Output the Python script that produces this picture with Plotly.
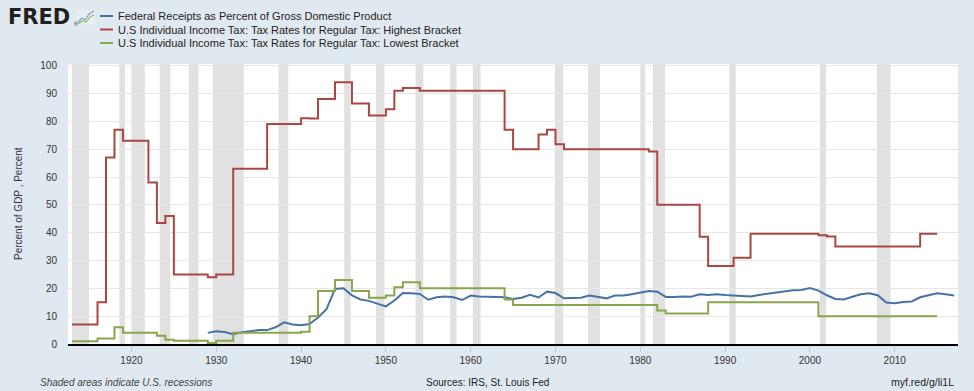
import plotly.graph_objects as go

# ---------------- data ----------------
years_rates = list(range(1913, 2016))
highest_bracket = [
    7, 7, 7, 15, 67, 77, 73, 73, 73, 58,          # 1913-1922
    43.5, 46, 25, 25, 25, 25, 24, 25, 25, 63,     # 1923-1932
    63, 63, 63, 79, 79, 79, 79, 81.1, 81, 88,     # 1933-1942
    88, 94, 94, 86.45, 86.45, 82.13, 82.13, 84.36, 91, 92,  # 1943-1952
    92, 91, 91, 91, 91, 91, 91, 91, 91, 91,       # 1953-1962
    91, 77, 70, 70, 70, 75.25, 77, 71.75, 70, 70,  # 1963-1972
    70, 70, 70, 70, 70, 70, 70, 70, 69.13, 50,    # 1973-1982
    50, 50, 50, 50, 38.5, 28, 28, 28, 31, 31,     # 1983-1992
    39.6, 39.6, 39.6, 39.6, 39.6, 39.6, 39.6, 39.6, 39.1, 38.6,  # 1993-2002
    35, 35, 35, 35, 35, 35, 35, 35, 35, 35,       # 2003-2012
    39.6, 39.6, 39.6,                             # 2013-2015
]
lowest_bracket = [
    1, 1, 1, 2, 2, 6, 4, 4, 4, 4,                 # 1913-1922
    3, 1.5, 1.125, 1.125, 1.125, 1.125, 0.375, 1.125, 1.125, 4,  # 1923-1932
    4, 4, 4, 4, 4, 4, 4, 4.4, 10, 19,             # 1933-1942
    19, 23, 23, 19, 19, 16.6, 16.6, 17.4, 20.4, 22.2,  # 1943-1952
    22.2, 20, 20, 20, 20, 20, 20, 20, 20, 20,     # 1953-1962
    20, 16, 14, 14, 14, 14, 14, 14, 14, 14,       # 1963-1972
    14, 14, 14, 14, 14, 14, 14, 14, 14, 12,       # 1973-1982
    11, 11, 11, 11, 11, 15, 15, 15, 15, 15,       # 1983-1992
    15, 15, 15, 15, 15, 15, 15, 15, 10, 10,       # 1993-2002
    10, 10, 10, 10, 10, 10, 10, 10, 10, 10,       # 2003-2012
    10, 10, 10,                                   # 2013-2015
]

years_receipts = list(range(1929, 2018))
receipts_pct_gdp = [
    4.0, 4.6, 4.3, 3.5, 4.2, 4.6, 5.0, 5.0, 6.0, 7.8,   # 1929-1938
    7.0, 6.7, 7.2, 9.5, 12.5, 19.8, 20.0, 17.5, 16.0, 15.5,  # 1939-1948
    14.5, 13.5, 15.6, 18.3, 18.2, 18.0, 15.9, 16.8, 17.1, 16.8,  # 1949-1958
    15.8, 17.4, 17.1, 17.0, 17.1, 16.8, 16.2, 16.6, 17.7, 16.7,  # 1959-1968
    18.8, 18.3, 16.4, 16.5, 16.6, 17.4, 17.0, 16.4, 17.4, 17.4,  # 1969-1978
    17.9, 18.4, 19.0, 18.8, 16.9, 16.9, 17.1, 17.0, 17.9, 17.6,  # 1979-1988
    17.9, 17.6, 17.4, 17.1, 17.1, 17.6, 18.0, 18.3, 18.8, 19.3,  # 1989-1998
    19.4, 20.1, 19.2, 17.5, 16.2, 16.0, 17.0, 17.9, 18.2, 17.5,  # 1999-2008
    14.9, 14.6, 15.1, 15.3, 16.8, 17.6, 18.2, 17.9, 17.4,        # 2009-2017
]

# NBER recessions (start year, start month, end year, end month)
recessions = [
    (1913, 1, 1914, 12), (1918, 8, 1919, 3), (1920, 1, 1921, 7),
    (1923, 5, 1924, 7), (1926, 10, 1927, 11), (1929, 8, 1933, 3),
    (1937, 5, 1938, 6), (1945, 2, 1945, 10), (1948, 11, 1949, 10),
    (1953, 7, 1954, 5), (1957, 8, 1958, 4), (1960, 4, 1961, 2),
    (1969, 12, 1970, 11), (1973, 11, 1975, 3), (1980, 1, 1980, 7),
    (1981, 7, 1982, 11), (1990, 7, 1991, 3), (2001, 3, 2001, 11),
    (2007, 12, 2009, 6),
]

x_tick_years = [1920, 1930, 1940, 1950, 1960, 1970, 1980, 1990, 2000, 2010]
y_ticks = [0, 10, 20, 30, 40, 50, 60, 70, 80, 90, 100]

series_names = [
    "Federal Receipts as Percent of Gross Domestic Product",
    "U.S Individual Income Tax: Tax Rates for Regular Tax: Highest Bracket",
    "U.S Individual Income Tax: Tax Rates for Regular Tax: Lowest Bracket",
]
series_colors = ["#4572a7", "#aa4643", "#89a54e"]

# ---------------- layout geometry ----------------
W, H = 974, 391
ML, MR, MT, MB = 68, 16, 64, 47
PW, PH = W - ML - MR, H - MT - MB


def px(x):
    return (x - ML) / PW


def py(y):
    return (H - MB - y) / PH


FONT = "Liberation Sans, Arial, sans-serif"

fig = go.Figure()
fig.add_trace(go.Scatter(x=years_receipts, y=receipts_pct_gdp, mode="lines",
                         line=dict(color=series_colors[0], width=2),
                         name=series_names[0], showlegend=False))
fig.add_trace(go.Scatter(x=years_rates, y=highest_bracket, mode="lines",
                         line=dict(color=series_colors[1], width=2, shape="hv"),
                         name=series_names[1], showlegend=False))
fig.add_trace(go.Scatter(x=years_rates, y=lowest_bracket, mode="lines",
                         line=dict(color=series_colors[2], width=2, shape="hv"),
                         name=series_names[2], showlegend=False))

shapes = []
for (sy, sm, ey, em) in recessions:
    shapes.append(dict(type="rect", xref="x", yref="paper",
                       x0=sy + (sm - 1) / 12, x1=ey + em / 12, y0=0, y1=1,
                       fillcolor="#e1e1e1", line=dict(width=0), layer="below"))

annotations = []
# legend
legend_rows = [16, 29.5, 43]
for name, color, ry in zip(series_names, series_colors, legend_rows):
    shapes.append(dict(type="line", xref="paper", yref="paper",
                       x0=px(100), x1=px(113), y0=py(ry), y1=py(ry),
                       line=dict(color=color, width=2)))
    annotations.append(dict(text=name, xref="paper", yref="paper",
                            x=px(116), y=py(ry), xanchor="left", yanchor="middle",
                            showarrow=False,
                            font=dict(family=FONT, size=11, color="#222222")))

# FRED logo
annotations.append(dict(text="<b>FRED</b>", xref="paper", yref="paper",
                        x=px(6), y=py(17.5), xanchor="left", yanchor="middle",
                        showarrow=False,
                        font=dict(family="DejaVu Sans, sans-serif", size=21, color="#231f20")))
annotations.append(dict(text="®", xref="paper", yref="paper",
                        x=px(72), y=py(24), xanchor="left", yanchor="middle",
                        showarrow=False,
                        font=dict(family=FONT, size=5, color="#231f20")))
shapes.append(dict(type="rect", xref="paper", yref="paper",
                   x0=px(77), x1=px(95), y0=py(25), y1=py(10),
                   fillcolor="#e9eef3", line=dict(width=0)))
shapes.append(dict(type="path", xref="paper", yref="paper",
                   path="M {} {} L {} {} L {} {} L {} {} L {} {}".format(
                       px(78), py(22), px(82), py(18), px(85), py(20),
                       px(89), py(14), px(94), py(11)),
                   line=dict(color="#7fa0c8", width=1.2)))
shapes.append(dict(type="path", xref="paper", yref="paper",
                   path="M {} {} L {} {} L {} {} L {} {} L {} {}".format(
                       px(78), py(24), px(82), py(21), px(86), py(22),
                       px(90), py(17), px(94), py(15)),
                   line=dict(color="#9bbb59", width=1.2)))

# y axis title
annotations.append(dict(text="Percent of GDP , Percent", xref="paper", yref="paper",
                        x=px(18), y=0.5, xanchor="center", yanchor="middle",
                        textangle=-90, showarrow=False,
                        font=dict(family=FONT, size=10, color="#333333")))
# footer
annotations.append(dict(text="<i>Shaded areas indicate U.S. recessions</i>",
                        xref="paper", yref="paper", x=px(38), y=py(382),
                        xanchor="left", yanchor="middle", showarrow=False,
                        font=dict(family=FONT, size=10, color="#444444")))
annotations.append(dict(text="Sources: IRS, St. Louis Fed",
                        xref="paper", yref="paper", x=px(487), y=py(382),
                        xanchor="center", yanchor="middle", showarrow=False,
                        font=dict(family=FONT, size=10, color="#222222")))
annotations.append(dict(text="myf.red/g/li1L",
                        xref="paper", yref="paper", x=px(956), y=py(382),
                        xanchor="right", yanchor="middle", showarrow=False,
                        font=dict(family=FONT, size=10.5, color="#222222")))

fig.update_layout(
    width=W, height=H,
    margin=dict(l=ML, r=MR, t=MT, b=MB),
    paper_bgcolor="#e1e9f0", plot_bgcolor="#ffffff",
    showlegend=False,
    shapes=shapes, annotations=annotations,
    font=dict(family=FONT, size=10, color="#333333"),
    xaxis=dict(range=[1912.52, 2017.46], tickmode="array",
               tickvals=x_tick_years, ticktext=[str(v) for v in x_tick_years],
               showgrid=False, zeroline=False, showline=True,
               linecolor="#000000", linewidth=2,
               ticks="outside", ticklen=6, tickcolor="#c5ced8", tickwidth=1,
               tickfont=dict(family=FONT, size=10, color="#333333")),
    yaxis=dict(range=[0, 100.6], tickmode="array", tickvals=y_ticks,
               showgrid=True, gridcolor="#e6e6e6", gridwidth=1,
               zeroline=False, showline=False,
               ticks="outside", ticklen=8, tickcolor="rgba(0,0,0,0)",
               tickfont=dict(family=FONT, size=10, color="#333333")),
)

fig.write_html("out.html", config={"displayModeBar": False})

# remove the default page margin so the figure sits at the window's top-left
with open("out.html", "r", encoding="utf-8") as f:
    html = f.read()
html = html.replace("<head>", "<head><style>html,body{margin:0;padding:0;overflow:hidden;background:#e1e9f0;}</style>", 1)
with open("out.html", "w", encoding="utf-8") as f:
    f.write(html)
